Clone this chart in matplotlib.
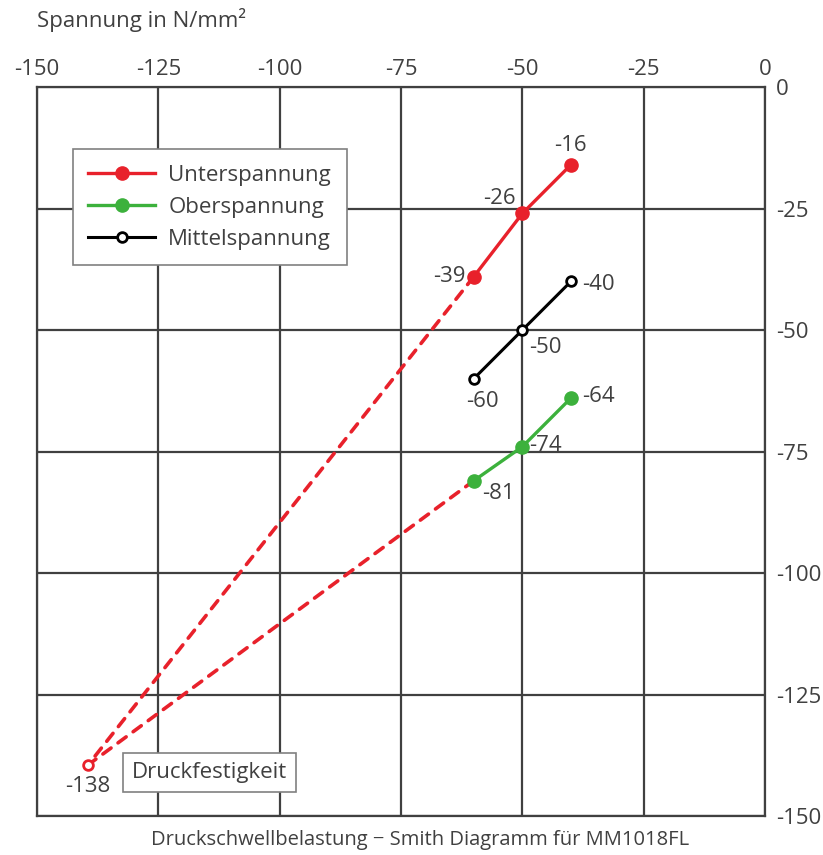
import matplotlib
matplotlib.use('Agg')
import matplotlib.pyplot as plt
import numpy as np

plt.rcParams['font.family'] = ['Open Sans', 'DejaVu Sans']
plt.rcParams['axes.unicode_minus'] = False

# Daten (Mittelspannung auf x, Spannung auf y)
x_mittel = [-40, -50, -60]
unter = [-16, -26, -39]
ober = [-64, -74, -81]
mittel = [-40, -50, -60]
druck_x = -139.5
druck_y = -139.5
druck_label = '-138'

ticks = [-150, -125, -100, -75, -50, -25, 0]

rot = '#e8212b'
gruen = '#3cb13c'
grau = '#404040'

fig = plt.figure(figsize=(8.23, 8.55), dpi=100)
ax = fig.add_axes([0.045, 0.0456, 0.8846, 0.8526])

# gestrichelte Verbindungen zur Druckfestigkeit
for yy in (unter[2], ober[2]):
    ax.plot([x_mittel[2], druck_x], [yy, druck_y], '--', color=rot, lw=2.6,
            dashes=(2.8, 2.4), dash_capstyle='round')
ax.plot(druck_x, druck_y, 'o', mfc='white', mec=rot, mew=2, ms=7)

ax.plot(x_mittel, unter, '-o', color=rot, lw=2.4, ms=9.5, label='Unterspannung')
ax.plot(x_mittel, ober, '-o', color=gruen, lw=2.4, ms=9.5, label='Oberspannung')
ax.plot(x_mittel, mittel, '-o', color='black', lw=2.2, ms=7, mfc='white', mec='black', mew=2,
        label='Mittelspannung')

fs = 16
# Beschriftungen der Punkte
ax.annotate(str(unter[0]), (x_mittel[0], unter[0]), xytext=(0, 6), textcoords='offset points',
            ha='center', va='bottom', fontsize=fs, color=grau)
ax.annotate(str(unter[1]), (x_mittel[1], unter[1]), xytext=(-5, 3), textcoords='offset points',
            ha='right', va='bottom', fontsize=fs, color=grau)
ax.annotate(str(unter[2]), (x_mittel[2], unter[2]), xytext=(-6, 0), textcoords='offset points',
            ha='right', va='center', fontsize=fs, color=grau)
ax.annotate(str(mittel[0]), (x_mittel[0], mittel[0]), xytext=(8, -2), textcoords='offset points',
            ha='left', va='center', fontsize=fs, color=grau)
ax.annotate(str(mittel[1]), (x_mittel[1], mittel[1]), xytext=(5, -5), textcoords='offset points',
            ha='left', va='top', fontsize=fs, color=grau)
ax.annotate(str(mittel[2]), (x_mittel[2], mittel[2]), xytext=(6, -9), textcoords='offset points',
            ha='center', va='top', fontsize=fs, color=grau)
ax.annotate(str(ober[0]), (x_mittel[0], ober[0]), xytext=(8, 1), textcoords='offset points',
            ha='left', va='center', fontsize=fs, color=grau)
ax.annotate(str(ober[1]), (x_mittel[1], ober[1]), xytext=(5, 1), textcoords='offset points',
            ha='left', va='center', fontsize=fs, color=grau)
ax.annotate(str(ober[2]), (x_mittel[2], ober[2]), xytext=(6, -2), textcoords='offset points',
            ha='left', va='top', fontsize=fs, color=grau)
ax.annotate(druck_label, (druck_x, druck_y), xytext=(0, -8), textcoords='offset points',
            ha='center', va='top', fontsize=fs, color=grau)

ax.text(-130.5, druck_y - 1.5, 'Druckfestigkeit', ha='left', va='center', fontsize=fs, color=grau,
        bbox=dict(boxstyle='square,pad=0.4', fc='white', ec='#808080', lw=1.2))

ax.set_xlim(-150, 0)
ax.set_ylim(-150, 0)
ax.set_xticks(ticks)
ax.set_yticks(ticks)
ax.xaxis.tick_top()
ax.yaxis.tick_right()
ax.tick_params(length=0, labelsize=fs, labelcolor=grau)
ax.tick_params(axis='x', pad=5)
ax.tick_params(axis='y', pad=8)
ax.grid(True, color=grau, lw=1.6)
for s in ax.spines.values():
    s.set_color(grau)
    s.set_linewidth(1.6)

leg = ax.legend(loc='upper left', bbox_to_anchor=(0.049, 0.915), fontsize=fs, frameon=True,
                fancybox=False, edgecolor='#808080', framealpha=1, borderpad=0.7,
                labelspacing=0.5, handlelength=3.0, handletextpad=0.6, labelcolor=grau,
                borderaxespad=0)
leg.get_frame().set_linewidth(1.2)

fig.text(0.045, 0.977, 'Spannung in N/mm²', ha='left', va='center', fontsize=fs, color=grau)
fig.text(0.51, 0.0175, 'Druckschwellbelastung − Smith Diagramm für MM1018FL', ha='center',
         va='center', fontsize=14.5, color=grau)

fig.savefig('out.png', dpi=100)
